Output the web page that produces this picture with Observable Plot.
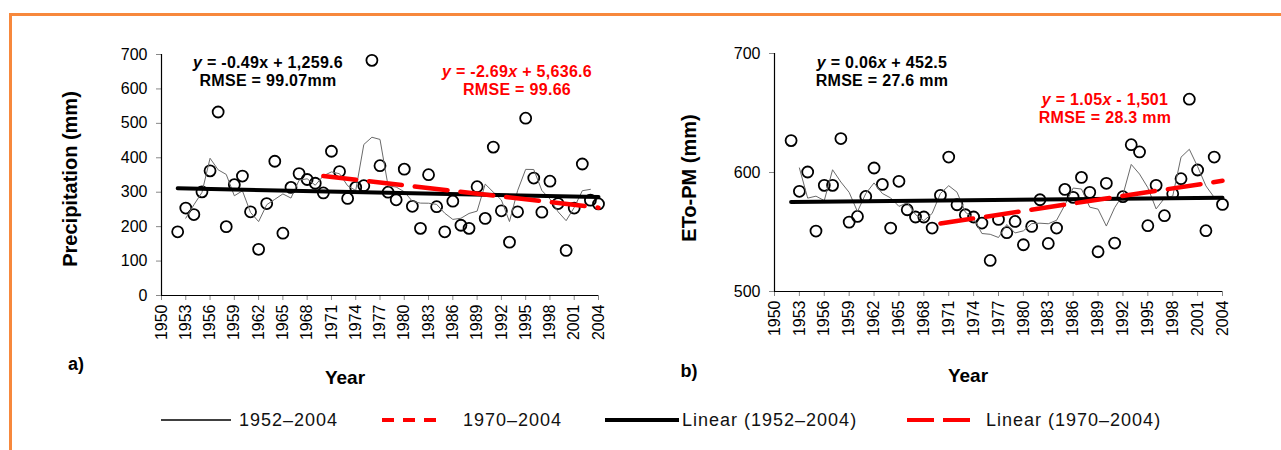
<!DOCTYPE html>
<html><head><meta charset="utf-8">
<script src="https://cdn.jsdelivr.net/npm/d3@7"></script>
<script src="https://cdn.jsdelivr.net/npm/@observablehq/plot@0.6"></script>
<style>
body{margin:0;background:#fff;font-family:"Liberation Sans",Arial,sans-serif;color:#000;}
#wrap{position:relative;width:1281px;height:450px;overflow:hidden;background:#fff;}
.frame{position:absolute;left:9px;top:13px;width:1400px;height:500px;border-left:3px solid #F7883C;border-top:3px solid #F7883C;box-sizing:border-box;}
.abs{position:absolute;white-space:nowrap;transform:translate(-50%,-50%);}
.eq{font-weight:bold;font-size:16px;text-align:center;line-height:18px;letter-spacing:0.3px;}
.red{color:#ff0000;}
.ttl{font-weight:bold;font-size:20px;}
.rot{transform:translate(-50%,-50%) rotate(-90deg);}
.lg{position:absolute;top:420px;transform:translateY(-50%);font-size:18px;letter-spacing:1px;color:#111;white-space:nowrap;}
.sw{position:absolute;top:412px;}
.plot{position:absolute;top:0;}
</style>
</head><body>
<div id="wrap">
  <div class="frame"></div>
  <div id="left" class="plot" style="left:0px"></div>
  <div id="right" class="plot" style="left:640px"></div>

  <div class="abs ttl rot" style="left:70px;top:179px">Precipitation (mm)</div>
  <div class="abs ttl rot" style="left:689px;top:178px">ETo-PM (mm)</div>

  <div class="abs eq" style="left:268px;top:72px"><i>y</i> = -0.49x + 1,259.6<br>RMSE = 99.07mm</div>
  <div class="abs eq red" style="left:517px;top:81px"><i>y</i> = -2.69<i>x</i> + 5,636.6<br>RMSE = 99.66</div>
  <div class="abs eq" style="left:882px;top:72px"><i>y</i> = 0.06<i>x</i> + 452.5<br>RMSE = 27.6 mm</div>
  <div class="abs eq red" style="left:1105px;top:109px"><i>y</i> = 1.05<i>x</i> - 1,501<br>RMSE = 28.3 mm</div>

  <div class="abs ttl" style="left:76px;top:364px;font-size:18px">a)</div>
  <div class="abs ttl" style="left:689px;top:371px;font-size:18px">b)</div>
  <div class="abs ttl" style="left:345px;top:378px;font-size:19px">Year</div>
  <div class="abs ttl" style="left:968px;top:376px;font-size:19px">Year</div>

  <svg class="sw" style="left:161px" width="72" height="16"><line x1="0" y1="8" x2="70" y2="8" stroke="#000" stroke-width="1.3"/></svg>
  <div class="lg" style="left:239px">1952–2004</div>
  <svg class="sw" style="left:382px" width="64" height="16"><line x1="0" y1="8" x2="62" y2="8" stroke="#ff0000" stroke-width="4" stroke-dasharray="12,9"/></svg>
  <div class="lg" style="left:463px">1970–2004</div>
  <svg class="sw" style="left:605px" width="76" height="16"><line x1="0" y1="8" x2="74" y2="8" stroke="#000" stroke-width="4"/></svg>
  <div class="lg" style="left:682px">Linear (1952–2004)</div>
  <svg class="sw" style="left:907px" width="66" height="16"><line x1="0" y1="8" x2="64" y2="8" stroke="#ff0000" stroke-width="4" stroke-dasharray="27,9"/></svg>
  <div class="lg" style="left:986px">Linear (1970–2004)</div>
</div>
<script>
// ---- data ----
const years = [1952,1953,1954,1955,1956,1957,1958,1959,1960,1961,1962,1963,1964,1965,1966,1967,1968,1969,1970,1971,1972,1973,1974,1975,1976,1977,1978,1979,1980,1981,1982,1983,1984,1985,1986,1987,1988,1989,1990,1991,1992,1993,1994,1995,1996,1997,1998,1999,2000,2001,2002,2003,2004];
const precipitation = [185,254,235,301,362,533,200,322,347,243,134,267,390,181,314,354,337,326,298,419,360,282,314,319,683,377,300,278,367,259,195,351,258,185,274,204,195,316,224,431,246,155,243,515,341,242,332,267,131,254,382,277,266];
const etoPM = [626.8,584.2,600.4,550.8,589.2,589.2,628.5,558.3,563.1,579.9,603.8,590.0,553.3,592.6,568.7,562.6,562.6,553.3,580.8,613.0,572.9,564.5,562.6,557.5,526.1,560.6,549.4,558.9,539.3,554.7,577.1,540.4,553.3,585.8,579.1,595.9,583.3,533.4,590.9,540.7,579.7,623.4,617.3,555.3,589.2,563.7,582.2,594.8,661.6,602.1,551.1,613.0,573.2];
const splitYear = 1970;
const xDomain = [1950, 2004];
const xTicks = [1950,1953,1956,1959,1962,1965,1968,1971,1974,1977,1980,1983,1986,1989,1992,1995,1998,2001,2004];
const precipDomain = [0, 700];
const precipTicks = [0,100,200,300,400,500,600,700];
const etoDomain = [500, 700];
const etoTicks = [500,600,700];

function panel(values, yDomain, yTicks, width, ml, mr, mt, mb) {
  const data = years.map((year, i) => ({year, value: values[i]}));
  const recent = data.filter(d => d.year >= splitYear);
  const svg = Plot.plot({
    width, height: 345,
    marginLeft: ml, marginRight: mr, marginTop: mt, marginBottom: mb,
    style: {fontFamily: '"Liberation Sans", Arial, sans-serif', fontSize: "16px", color: "#000", background: "transparent", overflow: "visible"},
    x: {domain: xDomain, ticks: xTicks, tickFormat: d => String(d), tickRotate: -90, tickSize: 5, tickPadding: 4, label: null},
    y: {domain: yDomain, ticks: yTicks, tickSize: 5, tickPadding: 9, label: null},
    marks: [
      Plot.ruleX([xDomain[0]], {stroke: "#000", strokeWidth: 1.2}),
      Plot.ruleY([yDomain[0]], {stroke: "#000", strokeWidth: 1.2}),
      Plot.dot(data, {x: "year", y: "value", r: 5.5, stroke: "#000", strokeWidth: 1.8, fill: "none"}),
      Plot.lineY(data, Plot.windowY({k: 3, anchor: "middle", strict: true}, {x: "year", y: "value", stroke: "#6a6a6a", strokeWidth: 1})),
      Plot.linearRegressionY(data, {x: "year", y: "value", stroke: "#000", strokeWidth: 4, ci: 0}),
      Plot.linearRegressionY(recent, {x: "year", y: "value", stroke: "#ff0000", strokeWidth: 4.5, strokeDasharray: "33,13", ci: 0})
    ]
  });
  d3.select(svg).selectAll('[aria-label="x-axis tick"] path, [aria-label="y-axis tick"] path').attr("stroke", "#888");
  return svg;
}

document.getElementById("left").appendChild(panel(precipitation, precipDomain, precipTicks, 640, 161, 42, 54, 50));
document.getElementById("right").appendChild(panel(etoPM, etoDomain, etoTicks, 641, 134, 59, 53, 54));
</script>
</body></html>
